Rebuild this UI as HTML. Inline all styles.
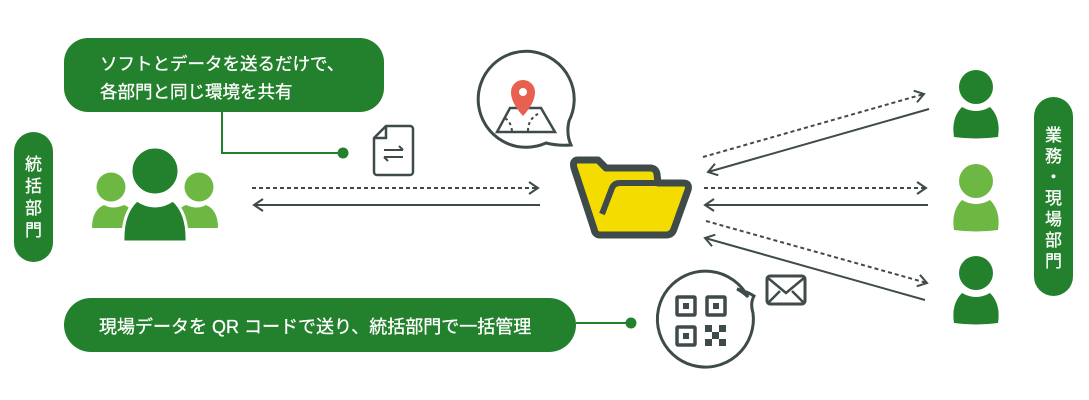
<!DOCTYPE html>
<html><head><meta charset="utf-8"><style>
html,body{margin:0;padding:0;background:#fff;}
svg{display:block;}
text{font-family:"Liberation Sans","Noto Sans CJK JP",sans-serif;}
</style></head><body>
<svg width="1089" height="400" viewBox="0 0 1089 400" xmlns="http://www.w3.org/2000/svg">
<defs>
<marker id="ah" viewBox="0 0 12 14" refX="10" refY="7" markerWidth="12" markerHeight="14" markerUnits="userSpaceOnUse" orient="auto">
<path d="M1,1 L10,7 L1,13" fill="none" stroke="#3f4b4a" stroke-width="2"/>
</marker>
</defs>
<!-- top bubble -->
<rect x="64" y="38" width="320" height="74" rx="24" fill="#23802c"/>
<text x="100" y="70" font-size="17.5" fill="#fff" stroke="#fff" stroke-width="0.3">ソフトとデータを送るだけで、</text>
<text x="100" y="98" font-size="17.5" fill="#fff" stroke="#fff" stroke-width="0.3">各部門と同じ環境を共有</text>
<polyline points="222,112 222,153 343,153" fill="none" stroke="#23802c" stroke-width="2"/>
<circle cx="343" cy="153" r="5.5" fill="#23802c"/>
<!-- doc icon -->
<path d="M386,126 H410 a3,3 0 0 1 3,3 V172 a3,3 0 0 1 -3,3 H377 a3,3 0 0 1 -3,-3 V138 Z" fill="none" stroke="#3f4b4a" stroke-width="2.5"/>
<path d="M374,138 H386 V126" fill="none" stroke="#3f4b4a" stroke-width="2.5"/>
<path d="M384,150 H403 M399,146 L403,150 M403,157 H384 M388,161 L384,157" fill="none" stroke="#3f4b4a" stroke-width="2"/>
<!-- left pill -->
<rect x="14" y="132" width="39" height="130" rx="19.5" fill="#23802c"/>
<g font-size="17" fill="#fff" text-anchor="middle" stroke="#fff" stroke-width="0.3">
<text x="33.5" y="170">統</text><text x="33.5" y="192">括</text><text x="33.5" y="214">部</text><text x="33.5" y="236">門</text>
</g>
<!-- group icon -->
<circle cx="111" cy="187" r="14.5" fill="#6db843"/>
<path d="M92,228 Q92,210 104,205 Q113,210 124,205 Q130,207 132,212 L128,228 Z" fill="#6db843"/>
<circle cx="199" cy="187" r="14.5" fill="#6db843"/>
<path d="M218,228 Q218,210 206,205 Q197,210 186,205 Q180,207 178,212 L182,228 Z" fill="#6db843"/>
<path d="M123,242 Q122,213 137,200 Q155,212 173,200 Q188,213 187,242 Z" fill="#23802c" stroke="#fff" stroke-width="3"/>
<circle cx="155" cy="171" r="24" fill="#23802c" stroke="#fff" stroke-width="3"/>
<!-- left arrows -->
<line x1="252" y1="188" x2="538" y2="188" stroke="#3f4b4a" stroke-width="2" stroke-dasharray="4,3" marker-end="url(#ah)"/>
<line x1="540" y1="205" x2="254" y2="205" stroke="#3f4b4a" stroke-width="2" marker-end="url(#ah)"/>
<!-- map bubble -->
<path d="M569,121 A48,48 0 1 0 546,143 Q558,146 571,145 Q566,134 569,121 Z" fill="#fff" stroke="#3f4b4a" stroke-width="3"/>
<path d="M510,108 H541 L555,132 H497 Z" fill="none" stroke="#3f4b4a" stroke-width="2.5"/>
<path d="M512,131 Q511,122 505,118 M528,131 Q528,118 540,113" fill="none" stroke="#3f4b4a" stroke-width="2" stroke-dasharray="3,3"/>
<path d="M523,116 Q511,103 511,92 A12,12 0 0 1 535,92 Q535,103 523,116 Z" fill="#e8604f"/>
<circle cx="523" cy="92" r="4" fill="#fff"/>
<!-- folder -->
<path d="M578,160 H598 L606,168 H650 Q656,168 657,174 L658,183 H683 Q690,183 688,190 L674,229 Q672,235 666,235 H600 Q595,235 594,229 L574,168 Q572,160 578,160 Z" fill="#f5dc00" stroke="#3f4b4a" stroke-width="7" stroke-linejoin="round"/>
<path d="M602,214 L612,188 Q614,183 620,183 H660" fill="none" stroke="#3f4b4a" stroke-width="6"/>
<!-- right arrows -->
<line x1="703" y1="157" x2="924" y2="94" stroke="#3f4b4a" stroke-width="2" stroke-dasharray="4,3" marker-end="url(#ah)"/>
<line x1="929" y1="109" x2="708" y2="172" stroke="#3f4b4a" stroke-width="2" marker-end="url(#ah)"/>
<line x1="704" y1="188" x2="926" y2="188" stroke="#3f4b4a" stroke-width="2" stroke-dasharray="4,3" marker-end="url(#ah)"/>
<line x1="928" y1="205" x2="705" y2="205" stroke="#3f4b4a" stroke-width="2" marker-end="url(#ah)"/>
<line x1="706" y1="221" x2="927" y2="283" stroke="#3f4b4a" stroke-width="2" stroke-dasharray="4,3" marker-end="url(#ah)"/>
<line x1="925" y1="300" x2="705" y2="238" stroke="#3f4b4a" stroke-width="2" marker-end="url(#ah)"/>
<!-- right persons -->
<circle cx="976" cy="87" r="17" fill="#23802c"/>
<path d="M954,137 Q951,118 962,107 Q976,115 990,107 Q1001,118 998,137 Q976,140 954,137 Z" fill="#23802c"/>
<circle cx="976" cy="181" r="17" fill="#6db843"/>
<path d="M954,230 Q951,211 962,200 Q976,208 990,200 Q1001,211 998,230 Q976,233 954,230 Z" fill="#6db843"/>
<circle cx="976" cy="273" r="17" fill="#23802c"/>
<path d="M954,323 Q951,304 962,293 Q976,301 990,293 Q1001,304 998,323 Q976,326 954,323 Z" fill="#23802c"/>
<!-- right pill -->
<rect x="1034" y="97" width="39" height="199" rx="19.5" fill="#23802c"/>
<g font-size="17" fill="#fff" text-anchor="middle" stroke="#fff" stroke-width="0.3">
<text x="1053.5" y="141">業</text><text x="1053.5" y="162">務</text><text x="1053.5" y="183">・</text><text x="1053.5" y="204">現</text><text x="1053.5" y="225">場</text><text x="1053.5" y="246">部</text><text x="1053.5" y="267">門</text>
</g>
<!-- bottom pill -->
<rect x="64" y="298" width="512" height="54" rx="27" fill="#23802c"/>
<text x="99" y="333" font-size="18" fill="#fff" stroke="#fff" stroke-width="0.3">現場データを QR コードで送り、統括部門で一括管理</text>
<line x1="576" y1="323" x2="631" y2="323" stroke="#23802c" stroke-width="2"/>
<circle cx="631" cy="323" r="5.5" fill="#23802c"/>
<!-- QR bubble -->
<path d="M748,297 A48,48 0 1 0 753,313 Q750,303 754,296 Q748,292 737,289 Q743,292 748,297 Z" fill="#fff" stroke="#3f4b4a" stroke-width="3"/>
<g fill="none" stroke="#3f4b4a" stroke-width="3.5">
<rect x="677" y="297" width="18" height="18" rx="1"/>
<rect x="707" y="297" width="18" height="18" rx="1"/>
<rect x="677" y="327" width="18" height="18" rx="1"/>
</g>
<g fill="#3f4b4a">
<rect x="683" y="303" width="6" height="6"/><rect x="713" y="303" width="6" height="6"/><rect x="683" y="333" width="6" height="6"/>
<rect x="705" y="325" width="7" height="7"/><rect x="719" y="325" width="7" height="7"/><rect x="712" y="332" width="7" height="7"/><rect x="705" y="339" width="7" height="7"/><rect x="719" y="339" width="7" height="7"/>
</g>
<!-- envelope -->
<rect x="767" y="276" width="38" height="28" rx="3" fill="none" stroke="#3f4b4a" stroke-width="3"/>
<path d="M768,278 L786,293 L804,278 M768,303 L780,291 M804,303 L792,291" fill="none" stroke="#3f4b4a" stroke-width="2.5"/>
</svg>
</body></html>
